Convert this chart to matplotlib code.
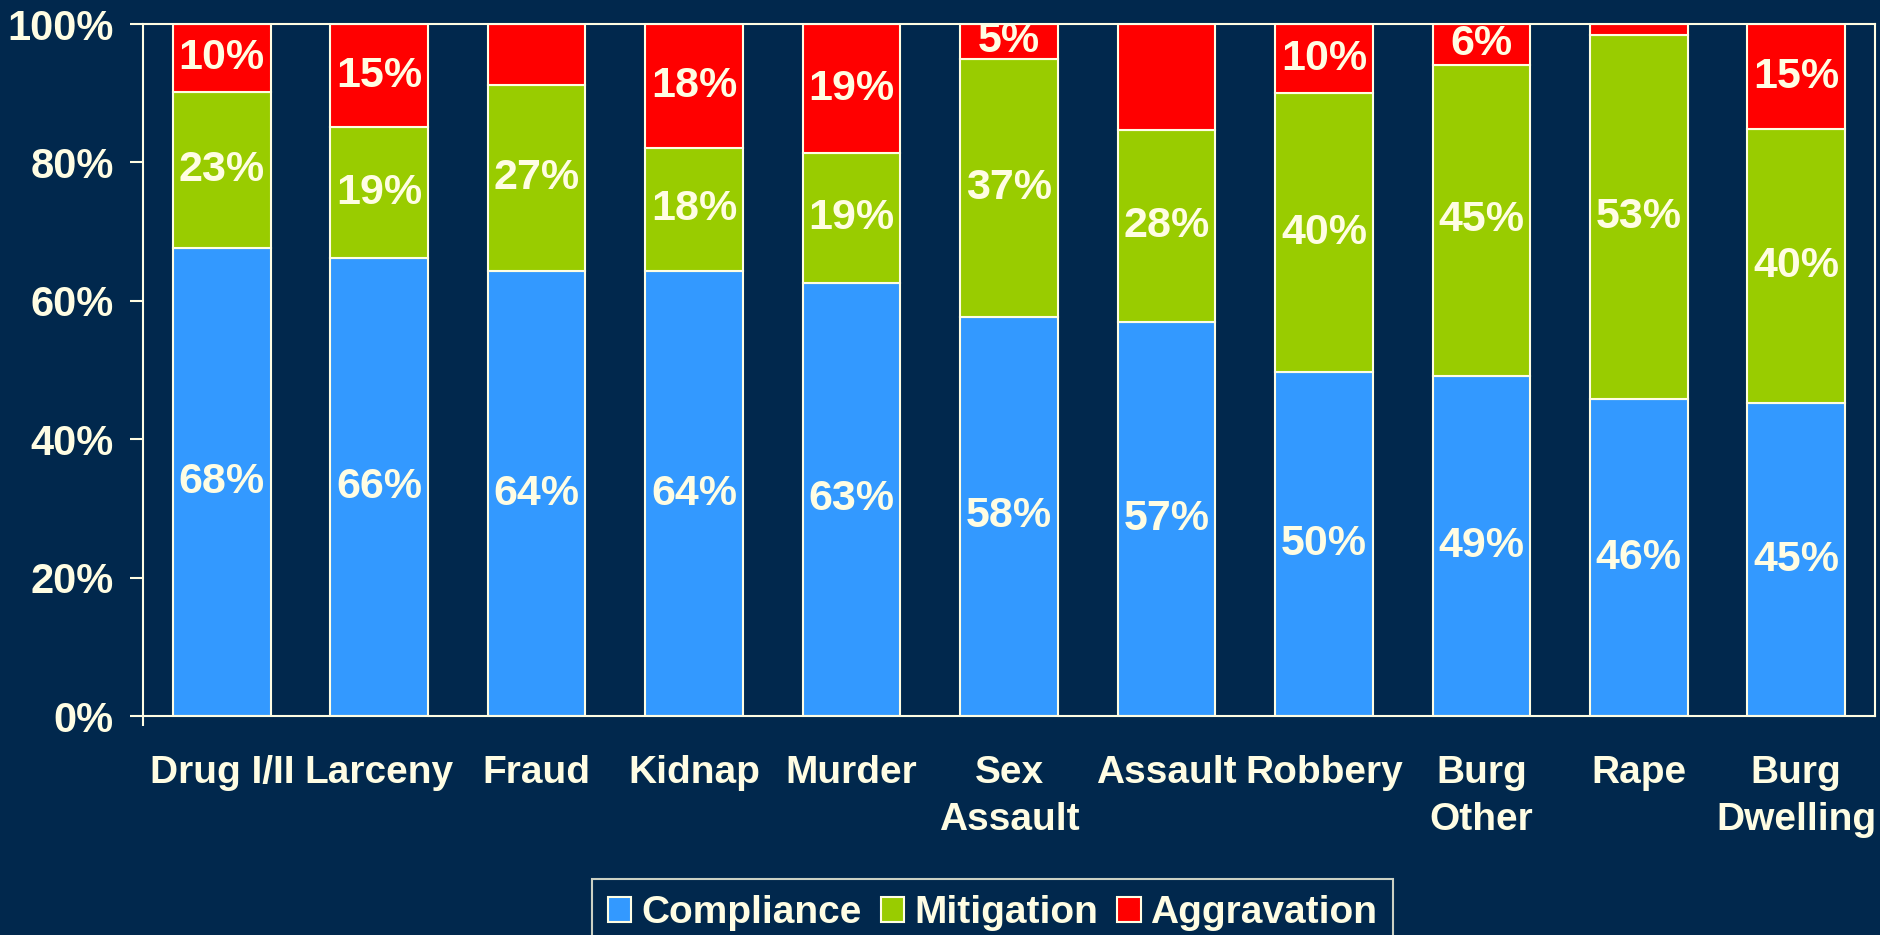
import matplotlib
matplotlib.use("Agg")
import matplotlib.pyplot as plt
import numpy as np

# ---------------------------------------------------------------------------
# Data
# ---------------------------------------------------------------------------
categories = ["Drug I/II", "Larceny", "Fraud", "Kidnap", "Murder",
              "Sex\nAssault", "Assault", "Robbery", "Burg\nOther",
              "Rape", "Burg\nDwelling"]
compliance = [67.6, 66.2, 64.3, 64.3, 62.6, 57.7, 57.0, 49.7, 49.2, 45.8, 45.2]
mitigation = [22.6, 18.9, 26.9, 17.8, 18.7, 37.3, 27.7, 40.3, 44.9, 52.6, 39.6]
aggravation = [9.8, 14.9, 8.8, 17.9, 18.7, 5.0, 15.3, 10.0, 5.9, 1.6, 15.2]
# aggravation labels not printed on the original for these bars
hide_aggr_label = [False, False, True, False, False, False, True,
                   False, False, True, False]

series = [("Compliance", compliance), ("Mitigation", mitigation),
          ("Aggravation", aggravation)]

BG = "#01284D"
FG = "#FFFDE3"
COLORS = {"Compliance": "#3399FF", "Mitigation": "#99CC00",
          "Aggravation": "#FF0000"}
FONT = "Liberation Sans"

plt.rcParams["font.family"] = [FONT, "DejaVu Sans"]
plt.rcParams["font.weight"] = "bold"

fig = plt.figure(figsize=(18.8, 9.35), dpi=100, facecolor=BG)
ax = fig.add_axes([0.0761, 0.2342, 0.9212, 0.7401])
ax.set_facecolor(BG)

x = np.arange(len(categories))
bottom = np.zeros(len(categories))
for name, vals in series:
    vals = np.array(vals)
    ax.bar(x, vals, width=0.62, bottom=bottom, color=COLORS[name],
           edgecolor=FG, linewidth=1.5, label=name, zorder=2)
    for i, (b, v) in enumerate(zip(bottom, vals)):
        if name == "Aggravation" and hide_aggr_label[i]:
            continue
        ax.text(x[i], b + v / 2, f"{round(v):d}%", ha="center", va="center",
                color=FG, fontsize=31, fontweight="bold", zorder=3)
    bottom = bottom + vals

ax.set_xlim(-0.5, len(categories) - 0.5)
ax.set_ylim(0, 100)
ax.set_yticks(np.arange(0, 101, 20))
ax.set_yticklabels([f"{v}%" for v in range(0, 101, 20)])
ax.set_xticks(x)
ax.set_xticklabels(categories, linespacing=1.4)
ax.tick_params(axis="y", colors=FG, labelsize=30, length=9.5, width=1.5,
               pad=11.5)
ax.tick_params(axis="x", colors=FG, labelsize=28, length=0, pad=28)
ax.set_xticks([-0.5], minor=True)
ax.tick_params(axis="x", which="minor", length=7, width=1.5, colors=FG)
for lbl in ax.get_xticklabels() + ax.get_yticklabels():
    lbl.set_fontweight("bold")
for sp in ax.spines.values():
    sp.set_color(FG)
    sp.set_linewidth(1.5)

leg = fig.legend(loc="center", bbox_to_anchor=(0.528, 1 - 913 / 935),
                 ncol=3, frameon=True, fontsize=28, handlelength=0.6,
                 handleheight=0.6, handletextpad=0.25, columnspacing=0.5,
                 borderpad=0.4, borderaxespad=0, fancybox=False)
leg.get_frame().set_facecolor(BG)
leg.get_frame().set_edgecolor(FG)
leg.get_frame().set_linewidth(1.5)
for t in leg.get_texts():
    t.set_color(FG)
    t.set_fontweight("bold")

fig.savefig("out.png", dpi=100, facecolor=BG)
